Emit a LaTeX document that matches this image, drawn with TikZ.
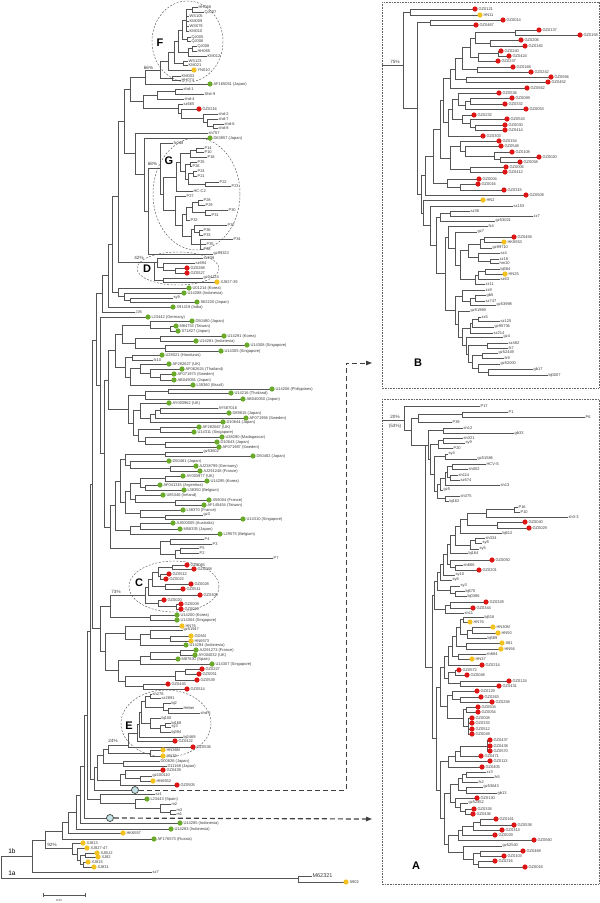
\documentclass[tikz,border=0pt]{standalone}
\usepackage{fontspec}
\setmainfont{Liberation Sans}
\usepackage{tikz}
\usetikzlibrary{arrows.meta}
\definecolor{ink}{HTML}{555555}
\definecolor{labgray}{HTML}{3A3A3A}
\definecolor{red}{HTML}{DD1515}
\definecolor{yel}{HTML}{F4C21F}
\definecolor{grn}{HTML}{6AAA2A}
\definecolor{hubfill}{HTML}{C3E3E8}
\tikzset{
  br/.style={draw=ink, line width=0.45pt},
  lab/.style={anchor=west, inner sep=0.4pt, text=labgray, font=\fontsize{4}{4.5}\selectfont},
  pct/.style={inner sep=0pt, text=labgray, font=\fontsize{4.6}{5}\selectfont},
  cladename/.style={inner sep=0pt, text=black, font=\fontsize{11}{12}\selectfont\bfseries},
  ring/.style={draw=black!65, dash pattern=on 2pt off 1.5pt, line width=0.45pt},
  frame/.style={draw=black!60, dash pattern=on 0.8pt off 0.8pt, line width=0.45pt},
  hub/.style={circle, draw=black!75, fill=hubfill, line width=0.7pt, minimum size=7pt, inner sep=0pt},
  link/.style={draw=black!75, dash pattern=on 5pt off 3pt, line width=1pt},
}
\newcount\leafno
% \clade{x}{y top}{y bottom}{y stem}{x parent}
\newcommand{\clade}[5]{\draw[br] (#1,#2) -- (#1,#3); \draw[br] (#5,#4) -- (#1,#4);}
% \leafn{y}{x parent}{x end}{label}
\newcommand{\leafn}[4]{\draw[br] (#2,#1) -- (#3,#1); \global\advance\leafno by 1
  \node[lab] (lf\the\leafno) at (#3,#1) {#4};}
% \leafd{y}{x parent}{x end}{label}{colour}
\newcommand{\leafd}[5]{\draw[br] (#2,#1) -- (#3,#1); \fill[#5] (#3,#1) circle (2.6);
  \global\advance\leafno by 1 \node[lab] (lf\the\leafno) at ({#3+2.9},#1) {#4};}
\begin{document}
\begin{tikzpicture}[x=1pt,y=-1pt]
  \useasboundingbox (0,0) rectangle (600,903);
  % clade rings
  \draw[ring] (187.5,41.5) ellipse [x radius=35.5, y radius=40.5];
  \draw[ring] (196.5,194) ellipse [x radius=43.5, y radius=56];
  \draw[ring] (178,268.5) ellipse [x radius=41, y radius=16.5];
  \draw[ring] (174,586.5) ellipse [x radius=45, y radius=25.5];
  \draw[ring] (166,723.5) ellipse [x radius=45, y radius=33.5];
  \node[cladename] (nF) at (160,43) {F};
  \node[cladename] (nG) at (169,161) {G};
  \node[cladename] (nD) at (147,269) {D};
  \node[cladename] (nC) at (139,583) {C};
  \node[cladename] (nE) at (129,726) {E};
  % boxes
  \draw[frame] (382,2) rectangle (599,388);
  \draw[frame] (382,399) rectangle (599,884);
  \node[cladename] (nB) at (418,363) {B};
  \node[cladename] (nA) at (416,866) {A};

  % ---- main tree: F
  \clade{192}{7}{12}{9.5}{186} \leafn{7}{192}{198}{HH068} \leafn{12}{192}{204}{QJ007}
  \clade{186}{9.5}{31}{20}{182}
  \leafn{16}{186}{189}{WS105} \leafn{21}{186}{189}{KM009} \leafn{26}{186}{189}{WS079} \leafn{31}{186}{189}{KM010}
  \clade{187}{37}{41}{39}{182} \leafn{37}{187}{191}{QJ005} \leafn{41}{187}{191}{QJ006}
  \clade{182}{20}{39}{30}{178}
  \clade{192}{46}{51}{48.5}{188} \leafn{46}{192}{197}{QJ008} \leafn{51}{192}{197}{HH085}
  \clade{188}{48.5}{56}{52}{178} \leafn{56}{188}{207}{KM012}
  \clade{178}{30}{52}{41}{174}
  \clade{183}{61}{65}{63}{174} \leafn{61}{183}{188}{WS123} \leafn{65}{183}{188}{KM021}
  \clade{174}{41}{63}{52}{168}
  \clade{168}{52}{70}{61}{160} \leafd{70}{168}{194}{YN010}{yel}
  \clade{172}{76}{80}{78}{160} \leafn{76}{172}{181}{KM003} \leafn{80}{172}{181}{HH074}
  \clade{160}{61}{78}{70}{145}
  \clade{145}{70}{84}{77}{130} \leafd{84}{145}{210}{AF165051 (Japan)}{grn}
  \node[pct] (p66) at (148.5,67.5) {66\%};
  % shd
  \clade{175}{89}{94}{91.5}{157} \leafn{89}{175}{183}{shd-1} \leafn{94}{175}{204}{Shd-9}
  \clade{157}{91.5}{99}{95}{143} \leafn{99}{157}{184}{shd-4}
  \clade{213}{124}{128}{126}{207} \leafn{124}{213}{224}{shd-6} \leafn{128}{213}{218}{shd-8}
  \clade{207}{119}{126}{122}{203} \leafn{119}{207}{218}{shd-7}
  \clade{203}{114}{122}{118}{181} \leafn{114}{203}{218}{shd-2}
  \clade{181}{109}{118}{113}{178} \leafd{109}{181}{199}{GZ0216}{red}
  \clade{178}{104}{113}{108}{143} \leafn{104}{178}{183}{sz665}
  \clade{143}{95}{108}{101}{130}
  \clade{130}{77}{101}{89}{124}
  % G
  \leafn{133}{135}{208}{sh757}
  \leafd{138}{144}{210}{D63857 (Japan)}{grn}
  \clade{196}{148}{152}{150}{190} \leafn{148}{196}{204}{P14} \leafn{152}{196}{204}{P10}
  \clade{190}{150}{157}{153.5}{180} \leafn{157}{190}{207}{P18}
  \clade{190}{162}{166}{164}{185} \leafn{162}{190}{197}{P25} \leafn{166}{190}{192}{P26}
  \clade{193}{171}{176}{173.5}{188} \leafn{171}{193}{197}{P24} \leafn{176}{193}{197}{P21}
  \clade{205}{182}{186}{184}{188} \leafn{182}{205}{219}{P22} \leafn{186}{205}{231}{P23}
  \clade{188}{173.5}{184}{179}{185}
  \clade{185}{164}{179}{171.5}{180}
  \clade{180}{153.5}{171.5}{162.5}{176}
  \clade{176}{162.5}{191}{177}{163} \leafn{191}{176}{193}{HC-C2}
  \clade{198}{200}{205}{202.5}{192} \leafn{200}{198}{203}{P28} \leafn{205}{198}{205}{P29}
  \clade{205}{210}{215}{212.5}{192} \leafn{210}{205}{228}{P30} \leafn{215}{205}{211}{P31}
  \clade{192}{202.5}{212.5}{207.5}{186}
  \clade{186}{207.5}{220}{214}{182} \leafn{220}{186}{190}{P32}
  \clade{199}{230}{235}{232.5}{194} \leafn{230}{199}{203}{P36} \leafn{235}{199}{203}{P33}
  \clade{194}{225}{232.5}{229}{191} \leafn{225}{194}{227}{P37}
  \clade{200}{239}{249}{244}{191} \leafn{239}{200}{233}{P34} \leafn{244}{200}{206}{P35} \leafn{249}{200}{203}{P38}
  \clade{191}{229}{244}{236.5}{182}
  \clade{182}{214}{236.5}{225}{175}
  \clade{175}{196}{225}{210.5}{163} \leafn{196}{175}{186}{P27}
  \clade{163}{177}{210.5}{194}{160}
  \clade{160}{143}{194}{168}{148} \leafn{143}{160}{173}{fz048}
  \node[pct] (p68) at (152.5,164) {68\%};
  \clade{148}{168}{254}{211}{144} \leafn{254}{148}{213}{gz99323}
  \clade{144}{138}{211}{174}{135}
  \clade{135}{133}{174}{153.5}{124}
  \clade{124}{89}{153.5}{121}{118}
  % D
  \clade{175}{268}{273}{270.5}{163} \leafd{268}{175}{187}{GZ0268}{red} \leafd{273}{175}{187}{GZ0527}{red}
  \clade{163}{263}{270.5}{266.75}{157} \leafn{263}{163}{195}{sz694}
  \clade{157}{258}{266.75}{262.5}{154} \leafn{258}{157}{203}{sz239}
  \clade{163}{278}{282}{280}{154} \leafn{278}{163}{203}{gz04124} \leafd{282}{163}{217}{XJ827-39}{yel}
  \clade{154}{262.5}{280}{262.5}{118}
  \node[pct] (p42) at (139,258) {42\%};
  \clade{118}{121}{262.5}{196}{112}
  \clade{130}{298}{302}{300}{124} \leafn{298}{130}{173}{sy9} \leafd{302}{130}{197}{S62220 (Japan)}{grn}
  \clade{124}{293}{300}{296.5}{118} \leafd{293}{124}{184}{U14288 (Indonesia)}{grn}
  \clade{118}{288}{296.5}{292}{112} \leafd{288}{118}{189}{U01214 (Korea)}{grn}
  \clade{112}{196}{292}{244}{108}
  \clade{108}{244}{307}{275}{102} \leafd{307}{108}{173}{X91419 (India)}{grn}
  \clade{102}{275}{312}{293.5}{96} \leafn{312}{102}{135}{JJ6}
  % worldwide 1b strains
  \clade{170}{326}{331}{328.5}{150} \leafd{326}{170}{176}{M84754 (Taiwan)}{grn} \leafd{331}{170}{178}{S71827 (Japan)}{grn}
  \clade{150}{321}{328.5}{325}{122} \leafd{321}{150}{192}{D50480 (Japan)}{grn}
  \clade{160}{336}{341}{338.5}{135} \leafd{336}{160}{224}{U14291 (Korea)}{grn} \leafd{341}{160}{196}{U14281 (Indonesia)}{grn}
  \clade{165}{345}{351}{348}{135} \leafd{345}{165}{247}{U14308 (Singapore)}{grn} \leafd{351}{165}{221}{U14305 (Singapore)}{grn}
  \clade{135}{338.5}{348}{343}{122}
  \clade{122}{325}{343}{334}{115}
  \clade{132}{355}{360}{357.5}{125} \leafd{355}{132}{162}{U28021 (Honduras)}{grn} \leafn{360}{132}{153}{fz10}
  \clade{160}{374}{380}{377}{150} \leafd{374}{160}{174}{AF071973 (Sweden)}{grn} \leafd{380}{160}{174}{AB049091 (Japan)}{grn}
  \clade{150}{369}{377}{373}{140} \leafd{369}{150}{182}{AF062624 (Thailand)}{grn}
  \clade{140}{364}{373}{368.5}{130} \leafd{364}{140}{169}{AF282627 (UK)}{grn}
  \clade{130}{368.5}{385}{377}{125} \leafd{385}{130}{193}{L38360 (Brazil)}{grn}
  \clade{125}{357.5}{377}{367}{115}
  \clade{115}{334}{367}{350.5}{108}
  \clade{168}{389}{393}{391}{145} \leafd{389}{168}{272}{U14206 (Philippines)}{grn} \leafd{393}{168}{231}{U14216 (Thailand)}{grn}
  \clade{145}{391}{399}{395}{128} \leafd{399}{145}{243}{AB040050 (Japan)}{grn}
  \clade{160}{408}{413}{410.5}{155} \leafn{408}{160}{218}{AY587016} \leafd{413}{160}{229}{D89815 (Japan)}{grn}
  \clade{155}{410.5}{418}{414}{150} \leafd{418}{155}{246}{AF071956 (Sweden)}{grn}
  \clade{150}{414}{422}{418}{140} \leafd{422}{150}{223}{D10644 (Japan)}{grn}
  \clade{140}{403}{418}{410.5}{133} \leafd{403}{140}{169}{AY003962 (UK)}{grn}
  \clade{160}{427}{432}{429.5}{138} \leafd{427}{160}{199}{AF282667 (UK)}{grn} \leafd{432}{160}{194}{U14311 (Singapore)}{grn}
  \clade{165}{442}{447}{444.5}{145} \leafd{442}{165}{217}{D10643 (Japan)}{grn} \leafd{447}{165}{219}{AF071987 (Sweden)}{grn}
  \clade{145}{437}{444.5}{441}{138} \leafd{437}{145}{222}{U38290 (Madagascar)}{grn}
  \clade{138}{429.5}{441}{435}{133}
  \clade{133}{410.5}{435}{423}{128}
  \clade{128}{395}{423}{409}{108}
  \clade{165}{452}{456}{454}{125} \leafn{452}{165}{203}{gz53602} \leafd{456}{165}{253}{D50482 (Japan)}{grn}
  \clade{170}{466}{471}{468.5}{130} \leafd{466}{170}{196}{AJ238799 (Germany)}{grn} \leafd{471}{170}{200}{AJ291248 (France)}{grn}
  \clade{130}{461}{468.5}{465}{125} \leafd{461}{130}{169}{D50481 (Japan)}{grn}
  \clade{125}{454}{465}{459.5}{120}
  \clade{165}{476}{481}{478.5}{140} \leafd{476}{165}{183}{AY003977 (UK)}{grn} \leafd{481}{165}{207}{U14295 (Korea)}{grn}
  \clade{145}{485}{490}{487.5}{140} \leafd{485}{145}{160}{AF041315 (Argentina)}{grn} \leafd{490}{145}{184}{L38350 (Belgium)}{grn}
  \clade{140}{478.5}{487.5}{483}{130}
  \clade{175}{500}{505}{502.5}{135} \leafd{500}{175}{209}{X59004 (France)}{grn} \leafd{505}{175}{204}{AF145454 (Taiwan)}{grn}
  \clade{135}{495}{502.5}{499}{130} \leafd{495}{135}{163}{U85346 (Ireland)}{grn}
  \clade{130}{483}{499}{491}{125}
  \clade{165}{515}{519}{517}{140} \leafn{515}{165}{203}{gz3} \leafd{519}{165}{243}{U14310 (Singapore)}{grn}
  \clade{140}{510}{517}{513.5}{125} \leafd{510}{140}{183}{L38370 (France)}{grn}
  \clade{125}{491}{513.5}{502}{120}
  \clade{140}{523}{529}{526}{130} \leafd{523}{140}{173}{AJ000005 (Australia)}{grn} \leafd{529}{140}{180}{M58335 (Japan)}{grn}
  \clade{130}{526}{534}{530}{115} \leafd{534}{130}{220}{L29575 (Belgium)}{grn}
  \clade{120}{459.5}{502}{481}{115}
  \clade{115}{481}{530}{505.5}{110}
  \clade{170}{539}{544}{541.5}{160} \leafn{539}{170}{204}{P4} \leafn{544}{170}{212}{P3}
  \clade{180}{548}{553}{550.5}{175} \leafn{548}{180}{199}{P5} \leafn{553}{180}{199}{P2}
  \clade{175}{550.5}{558}{554}{160} \leafn{558}{175}{273}{P7}
  \clade{160}{541.5}{554}{548}{110}
  \clade{110}{505.5}{548}{527}{104}
  \clade{108}{350.5}{409}{380}{104}
  \clade{104}{380}{527}{453.5}{100}
  \clade{100}{317}{453.5}{385}{96} \leafd{317}{100}{148}{L23442 (Germany)}{grn}
  \clade{96}{293.5}{385}{340}{92}
  % C
  \clade{172}{565}{569}{567}{158} \leafd{565}{172}{187}{GZ0065}{red} \leafd{569}{172}{194}{GZ0058}{red}
  \clade{160}{574}{579}{576.5}{158} \leafd{574}{160}{169}{GZ0512}{red} \leafd{579}{160}{166}{GZ0022}{red}
  \clade{158}{567}{576.5}{572}{152}
  \clade{165}{584}{589}{586.5}{152} \leafd{584}{165}{191}{GZ0028}{red} \leafd{589}{165}{183}{GZ0511}{red}
  \clade{152}{572}{586.5}{579}{148}
  \clade{148}{579}{595}{587}{145} \leafd{595}{148}{200}{GZ0305}{red}
  \clade{176}{604}{609}{606.5}{158} \leafd{604}{176}{181}{GZ0009}{red} \leafd{609}{176}{181}{GZ0010}{red}
  \clade{158}{600}{606.5}{603}{145} \leafd{600}{158}{164}{GZ0020}{red}
  \clade{145}{587}{603}{595}{110}
  \clade{150}{615}{620}{617.5}{110} \leafd{615}{150}{177}{U14200 (Korea)}{grn} \leafd{620}{150}{177}{U14304 (Singapore)}{grn}
  \clade{110}{595}{617.5}{606}{100}
  \node[pct] (p73) at (116,592) {73\%};
  \clade{170}{636}{641}{638.5}{150} \leafd{636}{170}{191}{GDM4}{yel} \leafd{641}{170}{191}{HN6573}{yel}
  \clade{150}{630}{638.5}{634}{140} \leafn{630}{150}{183}{gz51947}
  \clade{140}{634}{645}{639.5}{125} \leafd{645}{140}{186}{U14294 (Indonesia)}{grn}
  \clade{125}{626}{639.5}{633}{105} \leafd{626}{125}{182}{HN76}{yel}
  \clade{180}{650}{655}{652.5}{150} \leafd{650}{180}{196}{AJ291273 (France)}{grn} \leafd{655}{180}{195}{AY004032 (UK)}{grn}
  \clade{150}{652.5}{659}{656}{140} \leafd{659}{150}{178}{M87630 (Spain)}{grn}
  \clade{140}{656}{664}{660}{118} \leafd{664}{140}{212}{U14307 (Singapore)}{grn}
  \clade{185}{669}{674}{671.5}{175} \leafd{669}{185}{202}{GZ0227}{red} \leafd{674}{185}{199}{GZ0051}{red}
  \clade{175}{671.5}{680}{676}{125} \leafd{680}{175}{197}{GZ0539}{red}
  \clade{143}{684}{689}{686.5}{125} \leafd{684}{143}{168}{GZ0445}{red} \leafd{689}{143}{187}{GZ0514}{red}
  \clade{125}{676}{686.5}{681}{118}
  \clade{118}{660}{681}{670}{105}
  \clade{105}{633}{670}{651}{100}
  \clade{100}{606}{651}{628.5}{92}
  \clade{92}{340}{628.5}{484}{90}
  % E
  \clade{150}{694}{698}{696}{145} \leafn{694}{150}{152}{sh278} \leafn{698}{150}{161}{sz2891}
  \clade{168}{708}{713}{710.5}{163} \leafn{708}{168}{183}{Hebei} \leafn{713}{168}{200}{shd-5}
  \clade{163}{703}{710.5}{707}{145} \leafn{703}{163}{171}{bj2}
  \clade{145}{696}{707}{701.5}{141}
  \clade{165}{723}{727}{725}{160} \leafn{723}{165}{171}{bj168} \leafn{727}{165}{171}{sy3}
  \clade{160}{725}{732}{728.5}{150} \leafn{732}{160}{171}{bj394}
  \clade{150}{718}{728.5}{723}{141} \leafn{718}{150}{161}{bj100}
  \clade{141}{701.5}{723}{712}{139}
  \clade{139}{712}{737}{724.5}{137} \leafn{737}{139}{183}{bj2469}
  \clade{137}{724.5}{741}{733}{128} \leafd{741}{137}{175}{GZ0422}{red}
  \clade{128}{733}{747}{745}{108} \leafd{747}{128}{193}{GZ0536}{red}
  \clade{150}{750}{756}{753}{108} \leafd{750}{150}{163}{HN36M}{yel} \leafd{756}{150}{163}{HN39}{yel}
  \clade{108}{745}{753}{749}{103}
  \node[pct] (p24) at (113,741) {24\%};
  \clade{123}{761}{766}{763.5}{103} \leafn{761}{123}{160}{D00826 (Japan)} \leafn{766}{123}{167}{D11168 (Japan)}
  \clade{103}{749}{763.5}{755}{97}
  \clade{140}{776}{781}{778.5}{125} \leafn{776}{140}{152}{gz100110} \leafd{781}{140}{153}{HN6552}{yel}
  \clade{125}{770}{778.5}{774}{120} \leafd{770}{125}{163}{GZ0439}{red}
  \clade{120}{774}{785}{780}{97} \leafd{785}{120}{177}{GZ0505}{red}
  \clade{97}{755}{780}{767.5}{94}
  \draw[br] (94,790) -- (132,790);
  \clade{94}{767.5}{790}{779}{90}
  \clade{90}{484}{779}{631.5}{87}
  \clade{170}{810}{814}{812}{160} \leafn{810}{170}{176}{m3} \leafn{814}{170}{176}{m1}
  \clade{160}{804}{812}{808}{135} \leafn{804}{160}{171}{m2}
  \clade{135}{799}{808}{803.5}{100} \leafd{799}{135}{147}{L23443 (Spain)}{grn}
  \clade{100}{794}{803.5}{799}{87} \leafn{794}{100}{155}{sz1}
  \clade{87}{631.5}{799}{715}{84}
  \draw[br] (84,818) -- (107,818);
  \clade{84}{715}{818}{766.5}{80}
  \clade{80}{766.5}{823}{795}{76} \leafd{823}{80}{180}{U14285 (Indonesia)}{grn}
  \clade{76}{795}{829}{812}{68} \leafd{829}{76}{171}{U14283 (Indonesia)}{grn}
  \clade{68}{812}{833}{822.5}{62} \leafd{833}{68}{123}{HK6557}{yel}
  \clade{62}{822.5}{839}{831}{45} \leafd{839}{62}{154}{AF176573 (Russia)}{grn}
  % XJ and roots
  \clade{85}{853}{857}{855}{80} \leafd{853}{85}{97}{XJ0U2}{yel} \leafd{857}{85}{98}{XJ82}{yel}
  \clade{83}{862}{867}{864.5}{80} \leafd{862}{83}{88}{XJ815}{yel} \leafd{867}{83}{94}{XJ831}{yel}
  \clade{80}{855}{864.5}{860}{77}
  \clade{77}{848}{860}{854}{72} \leafd{848}{77}{87}{XJ827-47}{yel}
  \clade{72}{843}{854}{848.5}{45} \leafd{843}{72}{83}{XJ813}{yel}
  \node[pct] (p92) at (52,845) {92\%};
  \clade{45}{831}{848.5}{840}{32}
  \clade{32}{840}{872}{856}{1} \leafn{872}{32}{152}{sz7}
  \draw[br] (1,856) -- (1,878) -- (298,878);
  \clade{298}{876}{882}{878}{298}
  \draw[br] (298,876) -- (312,876);
  \node[lab, font=\fontsize{5.5}{6}\selectfont] (m62) at (312,875.5) {M62321};
  \leafd{882}{298}{346}{S902}{yel}
  \node[inner sep=0pt, font=\fontsize{6.5}{7}\selectfont] (r1b) at (12,851) {1b};
  \node[inner sep=0pt, font=\fontsize{6.5}{7}\selectfont] (r1a) at (12,873) {1a};
  % scale bar
  \draw[br] (43,893) -- (43,897) (85,893) -- (85,897) (43,895) -- (85,895);
  \node[inner sep=0pt, text=labgray, font=\fontsize{3}{3.5}\selectfont] (sc) at (59,900.5) {0.02};

  % ---- box B
  \clade{403}{12}{108}{65}{382}
  \node[pct] (p75) at (395,61.5) {75\%};
  \clade{410}{9}{15}{12}{403} \leafd{9}{410}{475}{GZ0121}{red} \leafd{15}{410}{480}{HN11}{yel}
  \clade{430}{20}{25}{22.5}{417} \leafd{20}{430}{503}{GZ0014}{red} \leafd{25}{430}{476}{GZ0467}{red}
  \clade{515}{30}{35}{32.5}{475} \leafd{30}{515}{539}{GZ0137}{red} \leafd{35}{515}{580}{GZ0158}{red}
  \clade{490}{40}{46}{43}{475} \leafd{40}{490}{521}{GZ0206}{red} \leafd{46}{490}{525}{GZ0182}{red}
  \clade{475}{32.5}{43}{38}{470}
  \clade{498}{51}{56}{53.5}{478} \leafd{51}{498}{501}{GZ0240}{red} \leafd{56}{498}{509}{GZ0424}{red}
  \clade{478}{53.5}{61}{57}{470} \leafd{61}{478}{498}{GZ0237}{red}
  \clade{470}{38}{57}{47.5}{462}
  \clade{477}{67}{72}{69.5}{462} \leafd{67}{477}{513}{GZ0168}{red} \leafd{72}{477}{531}{GZ0242}{red}
  \clade{462}{47.5}{69.5}{58.5}{455}
  \clade{466}{77}{82}{79.5}{455} \leafd{77}{466}{551}{GZ0556}{red} \leafd{82}{466}{548}{GZ0452}{red}
  \clade{455}{58.5}{79.5}{69}{450}
  \clade{450}{69}{88}{78.5}{443} \leafd{88}{450}{527}{GZ0562}{red}
  \clade{470}{98}{104}{101}{465} \leafd{98}{470}{512}{GZ0089}{red} \leafd{104}{470}{505}{GZ0332}{red}
  \clade{465}{101}{109}{105}{458} \leafd{109}{465}{526}{GZ0053}{red}
  \clade{458}{93}{105}{99}{452} \leafd{93}{458}{499}{GZ0536}{red}
  \clade{475}{125}{130}{127.5}{470} \leafd{125}{475}{505}{GZ0030}{red} \leafd{130}{475}{505}{GZ0414}{red}
  \clade{470}{119}{127.5}{123}{462} \leafd{119}{470}{507}{GZ0543}{red}
  \clade{462}{115}{123}{119}{452} \leafd{115}{462}{474}{GZ0232}{red}
  \clade{452}{99}{119}{109}{448}
  \clade{448}{109}{136}{122.5}{443} \leafd{136}{448}{483}{GZ0303}{red}
  \clade{443}{78.5}{122.5}{100.5}{440}
  \clade{500}{157}{162}{159.5}{494} \leafd{157}{500}{539}{GZ0020}{red} \leafd{162}{500}{520}{GZ0058}{red}
  \clade{494}{152}{159.5}{156}{465} \leafd{152}{494}{512}{GZ0108}{red}
  \clade{465}{146}{156}{151}{460} \leafd{146}{465}{501}{GZ0548}{red}
  \clade{460}{141}{151}{146}{450} \leafd{141}{460}{499}{GZ0154}{red}
  \clade{470}{167}{172}{169.5}{450} \leafd{167}{470}{506}{GZ0006}{red} \leafd{172}{470}{505}{GZ0412}{red}
  \clade{450}{146}{169.5}{158}{440}
  \clade{440}{100.5}{158}{129}{433}
  \clade{460}{184}{190}{187}{447} \leafd{184}{460}{478}{GZ0016}{red} \leafd{190}{460}{504}{GZ0315}{red}
  \clade{447}{179}{187}{183}{433} \leafd{179}{447}{479}{GZ0004}{red}
  \clade{433}{129}{183}{156}{425}
  \clade{425}{156}{195}{175.5}{421} \leafd{195}{425}{526}{GZ0508}{red}
  \clade{450}{211}{216}{213.5}{440} \leafn{211}{450}{470}{sz36} \leafn{216}{450}{533}{zz7}
  \clade{440}{213.5}{221}{217}{436} \leafn{221}{440}{495}{gz53021}
  \clade{484}{237}{242}{239.5}{480} \leafd{237}{484}{514}{GZ0458}{red} \leafd{242}{484}{504}{HK6553}{yel}
  \clade{480}{239.5}{248}{244}{468} \leafn{248}{480}{492}{gz99710}
  \clade{490}{259}{263}{261}{478} \leafn{259}{490}{499}{zz18} \leafn{263}{490}{499}{hm10}
  \clade{478}{253}{261}{257}{468} \leafn{253}{478}{500}{sz4}
  \clade{468}{244}{257}{250.5}{460}
  \clade{485}{269}{274}{271.5}{478} \leafn{269}{485}{500}{bj584} \leafd{274}{485}{505}{HN25}{yel}
  \clade{478}{271.5}{279}{275}{475} \leafn{279}{478}{500}{sz63}
  \clade{475}{275}{284}{279.5}{460} \leafn{284}{475}{485}{zz11}
  \clade{460}{250.5}{279.5}{265}{455}
  \clade{455}{232}{265}{248.5}{448} \leafn{232}{455}{477}{gz7}
  \clade{448}{226}{248.5}{237}{445} \leafn{226}{448}{488}{fz4}
  \clade{475}{295}{301}{298}{470} \leafn{295}{475}{486}{gb5} \leafn{301}{475}{485}{sz747}
  \clade{470}{298}{305}{301.5}{462} \leafn{305}{470}{496}{gz53998}
  \clade{462}{290}{301.5}{296}{455} \leafn{290}{462}{485}{zz8}
  \clade{478}{317}{321}{319}{472} \leafn{317}{478}{481}{zz5} \leafn{321}{478}{500}{sz125}
  \clade{472}{319}{327}{323}{470} \leafn{327}{472}{494}{gz95736}
  \clade{470}{323}{333}{328}{462} \leafn{333}{470}{493}{sz214}
  \clade{487}{343}{348}{345.5}{468} \leafn{343}{487}{508}{sz482} \leafn{348}{487}{508}{fz7}
  \clade{482}{353}{358}{355.5}{472} \leafn{353}{482}{498}{gz52449} \leafn{358}{482}{504}{fz9}
  \clade{488}{369}{375}{372}{478} \leafn{369}{488}{533}{gb17} \leafn{375}{488}{548}{bj0007}
  \clade{478}{364}{372}{368}{472} \leafn{364}{478}{500}{gz52000}
  \clade{472}{355.5}{368}{362}{468}
  \clade{468}{345.5}{362}{354}{466}
  \clade{466}{337}{354}{345.5}{462} \leafn{337}{466}{503}{gz4}
  \clade{462}{328}{345.5}{337}{458}
  \clade{458}{311}{337}{324}{455} \leafn{311}{458}{470}{gz51969}
  \clade{455}{296}{324}{310}{445}
  \clade{445}{237}{310}{273.5}{436}
  \clade{436}{217}{273.5}{245}{430}
  \clade{430}{206}{245}{225.5}{423} \leafn{206}{430}{513}{sz153}
  \clade{423}{200}{225.5}{213}{421} \leafd{200}{423}{483}{HN2}{yel}
  \clade{421}{175.5}{213}{194}{417}
  \clade{417}{22.5}{194}{108}{403}

  % ---- box A
  \clade{404}{406}{430}{420}{382} \leafn{406}{404}{480}{P17}
  \node[pct] (p20) at (395,416.5) {20\%};
  \node[pct] (p53) at (395,426) {(53\%)};
  \clade{462}{412}{417}{414}{418} \leafn{412}{462}{508}{P1} \leafn{417}{462}{585}{P6}
  \clade{418}{414}{422}{418}{411} \leafn{422}{418}{452}{P39}
  \clade{411}{418}{445}{430}{404}
  \clade{443}{428}{433}{430.5}{428} \leafn{428}{443}{463}{sh12} \leafn{433}{443}{514}{gb33}
  \clade{443}{438}{443}{440.5}{438} \leafn{438}{443}{463}{sh321} \leafn{443}{443}{465}{sy9}
  \clade{438}{440.5}{448}{444}{430} \leafn{448}{438}{453}{P20}
  \clade{445}{454}{459}{456.5}{434} \leafn{454}{445}{448}{sy4} \leafn{459}{445}{477}{gz51586}
  \clade{452}{464}{469}{466.5}{447} \leafn{464}{452}{486}{HCV-S} \leafn{469}{452}{468}{sh002}
  \clade{450}{475}{480}{477.5}{447} \leafn{475}{450}{458}{sh114} \leafn{480}{450}{460}{sz674}
  \clade{447}{466.5}{477.5}{472}{445}
  \clade{445}{472}{485}{478.5}{440} \leafn{485}{445}{500}{sh13}
  \clade{440}{478.5}{490}{484}{437} \leafn{490}{440}{443}{gz5}
  \clade{445}{496}{501}{498.5}{437} \leafn{496}{445}{460}{sh375} \leafn{501}{445}{449}{bj162}
  \clade{437}{484}{498.5}{491}{434}
  \clade{434}{456.5}{491}{474}{430}
  \clade{430}{444}{474}{459}{428}
  \clade{428}{430.5}{459}{445}{425}
  \clade{514}{507}{512}{509.5}{486} \leafn{507}{514}{518}{P16} \leafn{512}{514}{520}{P10}
  \clade{486}{509.5}{517}{513}{467} \leafn{517}{486}{568}{sh3-3}
  \clade{497}{522}{528}{525}{467} \leafd{522}{497}{525}{GZ0040}{red} \leafd{528}{497}{529}{GZ0029}{red}
  \clade{467}{513}{525}{519}{460}
  \clade{460}{519}{533}{526}{455} \leafn{533}{460}{502}{bj612}
  \clade{475}{538}{543}{540.5}{470} \leafn{538}{475}{485}{sh334} \leafn{543}{475}{482}{sy8}
  \clade{470}{540.5}{549}{545}{455} \leafn{549}{470}{479}{sy5}
  \clade{455}{526}{545}{535.5}{450}
  \clade{450}{535.5}{553}{544.5}{447} \leafn{553}{450}{468}{bj164}
  \clade{455}{565}{570}{567.5}{450} \leafn{565}{455}{463}{sh666} \leafd{570}{455}{479}{GZ0201}{red}
  \clade{450}{560}{567.5}{564}{447} \leafd{560}{450}{492}{GZ0050}{red}
  \clade{447}{544.5}{564}{554}{443}
  \clade{443}{554}{575}{564.5}{440} \leafn{575}{443}{455}{sy10}
  \clade{440}{564.5}{580}{572}{437} \leafn{580}{440}{452}{sy6}
  \clade{455}{591}{596}{593.5}{450} \leafn{591}{455}{465}{bj670} \leafn{596}{455}{467}{bj0386}
  \clade{450}{586}{593.5}{590}{437} \leafn{586}{450}{460}{sy3}
  \clade{437}{572}{590}{581}{434}
  \clade{450}{602}{608}{605}{445} \leafd{602}{450}{486}{GZ0328}{red} \leafd{608}{450}{473}{GZ0344}{red}
  \clade{445}{605}{613}{609}{434} \leafn{613}{445}{464}{sh11}
  \clade{434}{581}{609}{595}{432}
  \clade{463}{617}{622}{619.5}{460} \leafn{617}{463}{484}{bj516} \leafd{622}{463}{470}{HN76}{yel}
  \clade{472}{627}{633}{630}{467} \leafd{627}{472}{493}{HN30M}{yel} \leafd{633}{472}{498}{HN50}{yel}
  \clade{467}{630}{638}{634}{460} \leafn{638}{467}{487}{bj589}
  \clade{460}{619.5}{634}{627}{456}
  \clade{466}{643}{649}{646}{456} \leafd{643}{466}{502}{S81}{yel} \leafd{649}{466}{501}{HN56}{yel}
  \clade{456}{627}{646}{636.5}{452}
  \clade{458}{654}{659}{656.5}{452} \leafn{654}{458}{486}{sh684} \leafd{659}{458}{472}{HN37}{yel}
  \clade{452}{636.5}{656.5}{646.5}{448}
  \clade{448}{646.5}{665}{656}{444} \leafd{665}{448}{482}{GZ0214}{red}
  \clade{455}{670}{675}{672.5}{448} \leafd{670}{455}{459}{GZ0572}{red} \leafd{675}{455}{467}{GZ0048}{red}
  \clade{460}{681}{686}{683.5}{448} \leafd{681}{460}{509}{GZ0124}{red} \leafd{686}{460}{499}{GZ0431}{red}
  \clade{448}{672.5}{683.5}{678}{444}
  \clade{444}{656}{678}{667}{440}
  \clade{460}{697}{702}{699.5}{452} \leafd{697}{460}{481}{GZ0263}{red} \leafd{702}{460}{492}{GZ0258}{red}
  \clade{452}{691}{699.5}{695}{447} \leafd{691}{452}{477}{GZ0129}{red}
  \clade{466}{707}{712}{709.5}{463} \leafd{707}{466}{478}{GZ0504}{red} \leafd{712}{466}{478}{GZ0054}{red}
  \clade{468}{718}{734}{726}{463} \leafd{718}{468}{472}{GZ0008}{red} \leafd{723}{468}{472}{GZ0333}{red}
  \leafd{729}{468}{472}{GZ0512}{red} \leafd{734}{468}{472}{GZ0049}{red}
  \clade{463}{709.5}{726}{718}{447}
  \clade{447}{695}{718}{706.5}{440}
  \clade{440}{667}{706.5}{687}{436}
  \clade{487}{740}{751}{746}{460} \leafd{740}{487}{490}{GZ0437}{red} \leafd{746}{487}{490}{GZ0438}{red} \leafd{751}{487}{490}{GZ0570}{red}
  \clade{460}{746}{756}{751}{455} \leafd{756}{460}{481}{GZ0471}{red}
  \clade{455}{751}{761}{756}{448} \leafd{761}{455}{490}{GZ0113}{red}
  \clade{448}{756}{767}{761.5}{440} \leafd{767}{448}{482}{GZ0405}{red}
  \clade{466}{772}{777}{774.5}{462} \leafn{772}{466}{486}{zz3} \leafn{777}{466}{494}{fs5}
  \clade{462}{774.5}{782}{778}{458} \leafn{782}{462}{478}{fs2}
  \clade{466}{787}{793}{790}{458} \leafn{787}{466}{483}{gz53643} \leafn{793}{466}{497}{gb13}
  \clade{458}{778}{790}{784}{450}
  \clade{465}{809}{814}{811.5}{460} \leafd{809}{465}{474}{GZ0326}{red} \leafd{814}{465}{473}{GZ0436}{red}
  \clade{460}{803}{811.5}{807}{455} \leafn{803}{460}{468}{gz52452}
  \clade{455}{798}{807}{802.5}{450} \leafd{798}{455}{477}{GZ0130}{red}
  \clade{450}{784}{802.5}{793}{444}
  \clade{480}{819}{825}{822}{473} \leafd{819}{480}{496}{GZ0161}{red} \leafd{825}{480}{514}{GZ0538}{red}
  \clade{473}{822}{830}{826}{462} \leafd{830}{473}{502}{GZ0313}{red}
  \clade{462}{826}{835}{830.5}{458} \leafd{835}{462}{495}{GZ0029}{red}
  \clade{458}{830.5}{840}{835}{448} \leafd{840}{458}{534}{GZ0560}{red}
  \clade{480}{851}{856}{853.5}{473} \leafd{851}{480}{523}{GZ0469}{red} \leafd{856}{480}{504}{GZ0103}{red}
  \clade{478}{861}{867}{864}{473} \leafd{861}{478}{495}{GZ0216}{red} \leafd{867}{478}{525}{GZ0018}{red}
  \clade{473}{853.5}{864}{859}{463}
  \clade{463}{846}{859}{852.5}{448} \leafn{846}{463}{502}{gz52540}
  \clade{448}{835}{852.5}{844}{444}
  \clade{444}{793}{844}{818.5}{440}
  \clade{440}{761.5}{818.5}{790}{436}
  \clade{436}{687}{790}{738.5}{432}
  \clade{432}{595}{738.5}{667}{425}
  \clade{425}{445}{667}{445}{411}

  % ---- collapsed clades and links to the boxes
  \node[hub] (hubB) at (135,790) {};
  \node[hub] (hubA) at (110,818) {};
  \coordinate (bendB) at (346,790);
  \coordinate (tipB) at (372,363);
  \coordinate (tipA) at (372,819);
  \draw[link, -{Triangle[length=6pt,width=4.5pt]}] (hubB) -- (bendB) |- (tipB);
  \draw[link, line width=1.2pt, -{Triangle[length=6pt,width=4.5pt]}] (hubA) -- (tipA);
\end{tikzpicture}
\end{document}
